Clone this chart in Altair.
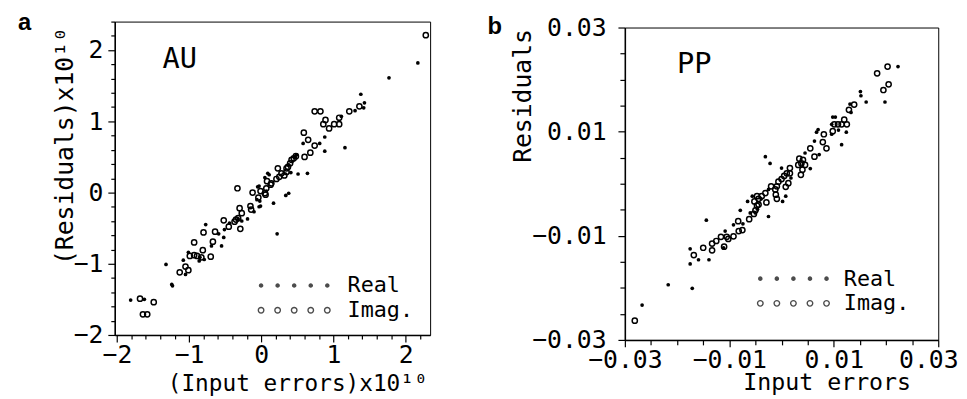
import altair as alt
import pandas as pd

# ---------------- panel a (AU) ----------------
a_real_x = [-1.81, -1.62, -1.32, -1.23, -1.24, -1.05, -1.08, -1.01, -0.86, -0.77,
            -0.69, -0.59, -0.52, -0.55, -0.51, -0.19, -0.10, -0.03, -0.05, -0.03,
            -0.06, 0.11, -0.01, 0.17, 0.34, 0.38, 0.22, 0.05, 0.51, 0.64,
            0.49, 0.47, 0.58, 0.81, 0.88, 0.88, 1.16, 1.38, 1.43, 1.42,
            1.30, 1.77, 2.17, 1.11, -0.27, -0.44, -0.79, -0.85, 0.07, 0.41,
            -0.02, 0.38, 0.09, -0.32]
a_real_y = [-1.51, -1.50, -1.01, -1.31, -1.29, -1.15, -0.95, -0.84, -0.96, -0.45,
            -0.75, -0.58, -0.63, -0.75, -0.52, -0.37, -0.27, -0.20, 0.08, 0.09,
            -0.10, 0.25, -0.19, -0.15, -0.04, -0.01, -0.58, 0.21, 0.26, 0.27,
            0.53, 0.50, 0.69, 0.69, 0.78, 0.58, 0.63, 1.38, 1.26, 1.19,
            1.15, 1.61, 1.82, 1.07, -0.40, -0.43, -0.94, -0.91, 0.02, 0.28,
            -0.12, 0.39, 0.27, -0.37]
a_imag_x = [-1.68, -1.49, -1.64, -1.58, -1.13, -1.05, -1.01, -0.99, -0.93, -0.89,
            -0.93, -0.81, -0.83, -0.70, -0.67, -0.80, -0.64, -0.52, -0.45, -0.37,
            -0.35, -0.32, -0.29, -0.30, -0.27, -0.15, -0.14, -0.33, -0.12, -0.01,
            -0.04, 0.06, 0.08, 0.13, 0.23, 0.37, 0.35, 0.32, 0.25, 0.21,
            0.14, 0.05, 0.07, 0.59, 0.65, 0.74, 0.68, 0.74, 0.82, 0.89,
            0.86, 0.94, 1.01, 1.08, 1.08, 1.36, 1.22, 2.28, 0.40, 0.42,
            0.45, 0.48, 0.28, 0.60, 0.35]
a_imag_y = [-1.49, -1.54, -1.71, -1.71, -1.12, -1.04, -1.09, -0.89, -0.88, -0.89,
            -0.70, -0.81, -0.91, -0.90, -0.69, -0.56, -0.55, -0.39, -0.48, -0.41,
            -0.38, -0.36, -0.51, -0.22, -0.29, -0.19, -0.24, 0.06, 0.00, 0.02,
            -0.07, -0.03, 0.16, 0.11, 0.34, 0.36, 0.29, 0.24, 0.22, 0.19,
            0.13, -0.01, 0.06, 0.84, 0.74, 0.66, 0.56, 1.14, 1.14, 1.02,
            0.96, 0.90, 0.96, 0.96, 1.05, 1.21, 1.14, 2.21, 0.41, 0.46,
            0.48, 0.51, 0.27, 0.50, 0.34]

# ---------------- panel b (PP) ----------------
b_real_x = [-0.0267, -0.0217, -0.0171, -0.0175, -0.0175, -0.0159, -0.0139, -0.0144, -0.0111, -0.0108,
            -0.0092, -0.0079, -0.0074, -0.0065, -0.0025, -0.0060, 0.0223, 0.0198, 0.0162, 0.0151,
            0.0152, 0.0131, 0.0133, 0.0103, 0.0098, 0.0096, 0.0124, 0.0109, 0.0096, 0.0067,
            0.0070, 0.0115, 0.0063, 0.0072, 0.0045, 0.0055, -0.0031, -0.0022, 0.0000, 0.0008,
            0.0002, -0.0025, -0.0050, 0.0018, -0.0039, -0.0046, -0.0056]
b_real_y = [-0.0233, -0.0194, -0.0201, -0.0154, -0.0125, -0.0146, -0.0146, -0.0070, -0.0123, -0.0091,
            -0.0079, -0.0051, -0.0077, -0.0034, -0.0063, -0.0056, 0.0225, 0.0157, 0.0157, 0.0177,
            0.0169, 0.0153, 0.0137, 0.0128, 0.0128, 0.0114, 0.0099, 0.0103, 0.0095, 0.0099,
            0.0104, 0.0075, 0.0082, 0.0056, 0.0059, 0.0029, 0.0052, 0.0039, 0.0030, -0.0024,
            -0.0034, -0.0011, -0.0056, 0.0011, -0.0029, -0.0049, -0.0024]
b_imag_x = [-0.0281, -0.0168, -0.0150, -0.0133, -0.0133, -0.0125, -0.0116, -0.0110, -0.0105, -0.0102,
            -0.0092, -0.0082, -0.0075, -0.0083, -0.0062, -0.0053, -0.0050, -0.0047, -0.0052, -0.0044,
            -0.0038, -0.0031, -0.0029, 0.0203, 0.0183, 0.0205, 0.0195, 0.0139, 0.0129, 0.0120,
            0.0125, 0.0101, 0.0108, 0.0115, 0.0098, 0.0081, 0.0079, 0.0086, 0.0055, 0.0063,
            0.0034, 0.0041, 0.0038, 0.0032, 0.0045, 0.0040, 0.0037, 0.0016, 0.0016, 0.0010,
            0.0005, 0.0000, -0.0006, 0.0013, 0.0008, -0.0009, -0.0012, -0.0011, -0.0009, -0.0020,
            -0.0047, -0.0044]
b_imag_y = [-0.0263, -0.0137, -0.0123, -0.0128, -0.0115, -0.0110, -0.0102, -0.0121, -0.0102, -0.0106,
            -0.0101, -0.0091, -0.0089, -0.0072, -0.0068, -0.0058, -0.0051, -0.0042, -0.0034, -0.0029,
            -0.0024, -0.0018, -0.0036, 0.0225, 0.0212, 0.0191, 0.0180, 0.0152, 0.0142, 0.0123,
            0.0114, 0.0114, 0.0114, 0.0114, 0.0101, 0.0095, 0.0080, 0.0068, 0.0068, 0.0052,
            0.0048, 0.0046, 0.0039, 0.0036, 0.0036, 0.0027, 0.0017, 0.0030, 0.0020, 0.0020,
            0.0015, 0.0009, 0.0004, 0.0001, -0.0006, -0.0005, -0.0011, -0.0021, -0.0029, -0.0005,
            -0.0024, -0.0040]

legend_labels = ["Real", "Imag."]
panel_letters = ["a", "b"]
letter_x = [-3.37, -0.0563]
letter_y = [2.289, 0.02867]
panel_names = ["AU", "PP"]
name_x = [-1.37, -0.0200]
name_y = [1.75, 0.0212]

xa_ticks = [round(-2.0 + 0.2 * i, 1) for i in range(22)]
ya_ticks = [round(-2.0 + 0.2 * i, 1) for i in range(23)]
b_ticks = [round(-0.03 + 0.005 * i, 3) for i in range(13)]

FONT = "DejaVu Sans Mono"


def legend_path(ring):
    parts = []
    for cx in [-33.5, -16.75, 0.0, 16.75, 33.5]:
        if ring:
            R, r = 3.5, 2.1
            parts.append(f"M{cx-R},0A{R},{R},0,1,0,{cx+R},0A{R},{R},0,1,0,{cx-R},0Z")
            parts.append(f"M{cx-r},0A{r},{r},0,1,1,{cx+r},0A{r},{r},0,1,1,{cx-r},0Z")
        else:
            r = 2.3
            parts.append(f"M{cx-r},0A{r},{r},0,1,0,{cx+r},0A{r},{r},0,1,0,{cx-r},0Z")
    return "".join(parts)


def panel(rx, ry, ix, iy, xenc, yenc, idx, leg_x, leg_y, sym_off, lab_off):
    real = alt.Chart(pd.DataFrame({"x": rx, "y": ry})).mark_circle(
        size=14, color="black", opacity=1).encode(x=xenc, y=yenc)
    imag = alt.Chart(pd.DataFrame({"x": ix, "y": iy})).mark_point(
        shape="circle", filled=False, size=28, strokeWidth=1.5, color="black", opacity=1
    ).encode(x=xenc, y=yenc)
    name = alt.Chart(pd.DataFrame({"x": [name_x[idx]], "y": [name_y[idx]], "t": [panel_names[idx]]})).mark_text(
        align="left", baseline="alphabetic", font=FONT, fontSize=29, color="black"
    ).encode(x=xenc, y=yenc, text="t:N")
    letter = alt.Chart(pd.DataFrame({"x": [letter_x[idx]], "y": [letter_y[idx]], "t": [panel_letters[idx]]})).mark_text(
        align="left", baseline="alphabetic", font="Liberation Sans", fontSize=24, fontWeight="bold",
        color="black"
    ).encode(x=xenc, y=yenc, text="t:N")
    leg = alt.Chart(pd.DataFrame({"series": legend_labels})).transform_filter("false").mark_point(
        filled=True, color="black", size=4
    ).encode(
        shape=alt.Shape("series:N",
                        scale=alt.Scale(domain=legend_labels,
                                        range=[legend_path(False), legend_path(True)]),
                        legend=alt.Legend(orient="none", legendX=leg_x, legendY=leg_y, title=None,
                                          padding=0, labelFont=FONT, labelFontSize=22,
                                          labelColor="black", symbolSize=4, symbolStrokeWidth=0,
                                          symbolFillColor="black", symbolOffset=sym_off,
                                          labelOffset=lab_off, rowPadding=3))
    )
    return alt.layer(real, imag, name, letter, leg)


test_a = "abs(datum.value - round(datum.value)) < 0.001"
test_b = "abs(abs(datum.value) - 0.01) < 0.0001 || abs(abs(datum.value) - 0.03) < 0.0001"

xa = alt.X("x:Q", scale=alt.Scale(domain=[-2.03, 2.34], nice=False, zero=False),
           axis=alt.Axis(values=xa_ticks, labelExpr=f"{test_a} ? format(datum.value, 'd') : ''",
                         tickSize={"condition": {"test": test_a, "value": 7}, "value": 4},
                         labelPadding=1, labelFlush=False, labelOverlap=False,
                         title="(Input errors)x10¹⁰", titleX=316, titleY=56, titleAlign="right",
                         titleBaseline="alphabetic", titleFontSize=23))
ya = alt.Y("y:Q", scale=alt.Scale(domain=[-2.0, 2.4], nice=False, zero=False),
           axis=alt.Axis(values=ya_ticks, labelExpr=f"{test_a} ? format(datum.value, 'd') : ''",
                         tickSize={"condition": {"test": test_a, "value": 7}, "value": 4},
                         labelPadding=5, labelFlush=False, labelOverlap=False,
                         title="(Residuals)x10¹⁰", titleX=-43, titleY=5, titleAlign="right",
                         titleAngle=270, titleBaseline="alphabetic", titleFontSize=25))
xb = alt.X("x:Q", scale=alt.Scale(domain=[-0.03, 0.03], nice=False, zero=False),
           axis=alt.Axis(values=b_ticks, labelExpr=f"({test_b}) ? format(datum.value, '.2f') : ''",
                         tickSize={"condition": {"test": test_b, "value": 7}, "value": 5},
                         labelOffset={"condition": {"test": "datum.value > 0.029", "value": -10}, "value": 0},
                         labelPadding=1, labelFlush=False, labelOverlap=False,
                         title="Input errors", titleX=289, titleY=50, titleAlign="right",
                         titleBaseline="alphabetic", titleFontSize=23.5))
yb = alt.Y("y:Q", scale=alt.Scale(domain=[-0.03, 0.03], nice=False, zero=False),
           axis=alt.Axis(values=b_ticks, labelExpr=f"({test_b}) ? format(datum.value, '.2f') : ''",
                         tickSize={"condition": {"test": test_b, "value": 7}, "value": 5},
                         labelPadding=12, labelFlush=False, labelOverlap=False,
                         title="Residuals", titleX=-95, titleY=1, titleAlign="right",
                         titleAngle=270, titleBaseline="alphabetic", titleFontSize=25))

pa = panel(a_real_x, a_real_y, a_imag_x, a_imag_y, xa, ya, 0, 150, 256, 20.5, 43).properties(
    width=319, height=317)
pb = panel(b_real_x, b_real_y, b_imag_x, b_imag_y, xb, yb, 1, 140, 243, 19.5, 40).properties(
    width=317, height=316)


def spacer():
    return alt.Chart(pd.DataFrame({"v": [0]})).mark_point(opacity=0, size=0).properties(
        width=10, height=1, view=alt.ViewBackground(stroke="transparent"))


col_a = alt.vconcat(spacer(), pa, spacing=1.5).resolve_scale(shape="independent").resolve_legend(
    shape="independent")
col_b = alt.vconcat(spacer(), pb, spacing=7.5).resolve_scale(shape="independent").resolve_legend(
    shape="independent")

chart = alt.hconcat(col_a, col_b, spacing=55).resolve_scale(shape="independent").resolve_legend(
    shape="independent"
).properties(
    padding={"left": 9, "top": -6, "right": 0, "bottom": 0}
).configure_view(stroke="black", strokeWidth=1).configure_axis(
    grid=False, domainColor="black", domainWidth=1.5, tickColor="black", tickWidth=1.2,
    labelColor="black", labelFont=FONT, labelFontSize=25, titleColor="black", titleFont=FONT,
    titleFontWeight="normal"
)

chart.save("out.html", embed_options={"renderer": "svg", "actions": False})
